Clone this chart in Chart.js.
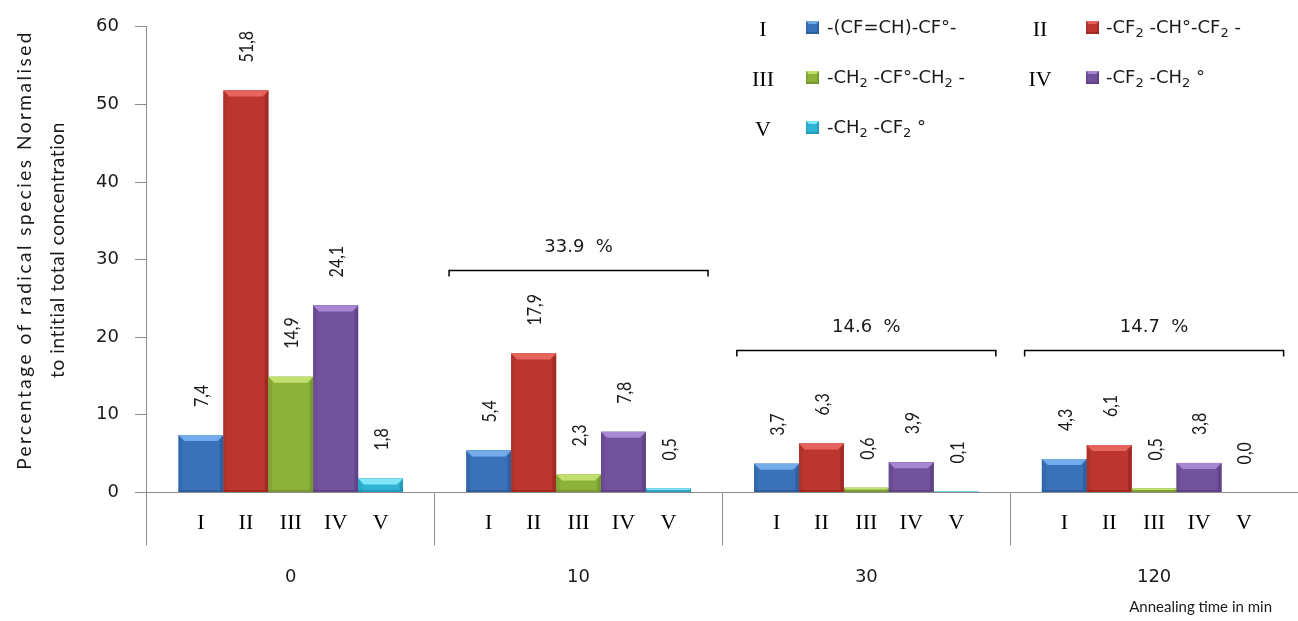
<!DOCTYPE html>
<html>
<head>
<meta charset="utf-8">
<script src="https://cdn.jsdelivr.net/npm/chart.js@4.4.1/dist/chart.umd.min.js"></script>
<style>
html, body { margin: 0; padding: 0; background: #fff; overflow: hidden; }
</style>
</head>
<body>
<canvas id="chart" width="1298" height="621"></canvas>
<script>
const annealing_times = ['0', '10', '30', '120'];
const species_numerals = ['I', 'II', 'III', 'IV', 'V'];
const species_names = ['-(CF=CH)-CF°-', '-CF₂ -CH°-CF₂ -', '-CH₂ -CF°-CH₂ -', '-CF₂ -CH₂ °', '-CH₂ -CF₂ °'];

const species_I = [7.4, 5.4, 3.7, 4.3];
const species_II = [51.8, 17.9, 6.3, 6.1];
const species_III = [14.9, 2.3, 0.6, 0.5];
const species_IV = [24.1, 7.8, 3.9, 3.8];
const species_V = [1.8, 0.5, 0.1, 0.0];

// remaining total after annealing, shown above each group
const total_labels = ['', '33.9  %', '14.6  %', '14.7  %'];
const total_levels = [null, 28.6, 18.4, 18.4];

const y_title_lines = ['Percentage of radical species Normalised', 'to intitial total concentration'];
const x_title = 'Annealing time in min';

const species_values = [species_I, species_II, species_III, species_IV, species_V];

// face / light bevel / dark edge
const bar_colors = [
    ['#3a72b9', '#74abea', '#24518b'],
    ['#bd362e', '#e5655c', '#8a231d'],
    ['#8db23a', '#c0df6c', '#66852a'],
    ['#72519d', '#a888d3', '#523878'],
    ['#2fb4d5', '#80e6f8', '#1d87a3']
];

const text_font = "Lato, 'Open Sans', sans-serif";
const number_font = "'DejaVu Sans', Verdana, sans-serif";
const serif_font = "'Liberation Serif', 'DejaVu Serif', serif";

function format_value(v) {
    return v.toFixed(1).replace('.', ',');
}

// draws text with ₂ rendered as a small lowered 2
function draw_formula(ctx, text, x, y, size) {
    let pos = x;
    for (const ch of text) {
        if (ch === '₂') {
            ctx.font = `${Math.round(size * 0.72)}px ${number_font}`;
            ctx.fillText('2', pos, y + size * 0.3);
            pos += ctx.measureText('2').width;
        } else {
            ctx.font = `${size}px ${number_font}`;
            ctx.fillText(ch, pos, y);
            pos += ctx.measureText(ch).width;
        }
    }
}

function bevel_box(ctx, left, top, right, bottom, colors, b) {
    const h = bottom - top;
    if (h <= 0) return;
    ctx.fillStyle = colors[0];
    ctx.fillRect(left, top, right - left, h);

    const bb = Math.min(b, h / 2);
    // top bevel
    ctx.fillStyle = colors[1];
    ctx.beginPath();
    ctx.moveTo(left, top);
    ctx.lineTo(right, top);
    ctx.lineTo(right - bb, top + bb);
    ctx.lineTo(left + bb, top + bb);
    ctx.closePath();
    ctx.fill();
    // right side
    ctx.fillStyle = colors[2];
    ctx.globalAlpha = 0.55;
    ctx.beginPath();
    ctx.moveTo(right, top);
    ctx.lineTo(right, bottom);
    ctx.lineTo(right - bb * 0.6, bottom - bb * 0.4);
    ctx.lineTo(right - bb * 0.6, top + bb);
    ctx.closePath();
    ctx.fill();
    // bottom edge
    ctx.fillRect(left, bottom - Math.min(2, bb), right - left, Math.min(2, bb));
    // left side
    ctx.globalAlpha = 0.25;
    ctx.beginPath();
    ctx.moveTo(left, top);
    ctx.lineTo(left + bb * 0.6, top + bb);
    ctx.lineTo(left + bb * 0.6, bottom);
    ctx.lineTo(left, bottom);
    ctx.closePath();
    ctx.fill();
    ctx.globalAlpha = 1;
}

const bar_decor = {
    id: 'bar_decor',
    afterDatasetsDraw(chart) {
        const ctx = chart.ctx;
        const area = chart.chartArea;
        ctx.save();
        chart.data.datasets.forEach((ds, i) => {
            const meta = chart.getDatasetMeta(i);
            meta.data.forEach((bar, j) => {
                const p = bar.getProps(['x', 'y', 'base', 'width'], true);
                const left = p.x - p.width / 2;
                const right = p.x + p.width / 2;
                bevel_box(ctx, left, p.y, right, p.base, bar_colors[i], 6);

                // value label, rotated (slightly widened across, like the original)
                ctx.save();
                ctx.translate(p.x + 1, p.y - 28);
                ctx.rotate(-Math.PI / 2);
                ctx.scale(1, 1.25);
                ctx.font = `16px ${text_font}`;
                ctx.fillStyle = '#1a1a1a';
                ctx.textAlign = 'left';
                ctx.textBaseline = 'middle';
                ctx.fillText(format_value(ds.data[j]), 0, 0);
                ctx.restore();

                // species numeral under the bar
                ctx.font = `22px ${serif_font}`;
                ctx.fillStyle = '#000';
                ctx.textAlign = 'center';
                ctx.textBaseline = 'middle';
                ctx.fillText(species_numerals[i], p.x, area.bottom + 31);
            });
        });
        ctx.restore();
    }
};

const totals_plugin = {
    id: 'totals_plugin',
    afterDatasetsDraw(chart) {
        const ctx = chart.ctx;
        const xs = chart.scales.x;
        const ys = chart.scales.y;
        ctx.save();
        total_labels.forEach((label, i) => {
            if (!label) return;
            const x0 = xs.getPixelForValue(i - 0.45);
            const x1 = xs.getPixelForValue(i + 0.45);
            const y = Math.round(ys.getPixelForValue(total_levels[i])) + 0.5;
            ctx.strokeStyle = '#000';
            ctx.lineWidth = 1.5;
            ctx.beginPath();
            ctx.moveTo(x0, y + 6);
            ctx.lineTo(x0, y);
            ctx.lineTo(x1, y);
            ctx.lineTo(x1, y + 6);
            ctx.stroke();
            ctx.font = `18px ${number_font}`;
            ctx.fillStyle = '#1a1a1a';
            ctx.textAlign = 'center';
            ctx.textBaseline = 'middle';
            ctx.fillText(label, xs.getPixelForValue(i), y - 23);
        });
        ctx.restore();
    }
};

const titles_plugin = {
    id: 'titles_plugin',
    afterDraw(chart) {
        const ctx = chart.ctx;
        ctx.save();
        ctx.fillStyle = '#1a1a1a';
        ctx.textAlign = 'center';
        ctx.textBaseline = 'middle';
        const spacing = ['2.5px', '0.6px'];
        const cx = [25, 58];
        y_title_lines.forEach((line, k) => {
            ctx.save();
            ctx.translate(cx[k], 250);
            ctx.rotate(-Math.PI / 2);
            ctx.font = `19px ${text_font}`;
            ctx.letterSpacing = spacing[k];
            ctx.fillText(line, 0, 0);
            ctx.restore();
        });
        ctx.font = `15px ${text_font}`;
        ctx.textAlign = 'right';
        ctx.fillText(x_title, 1272, 607);
        ctx.restore();
    }
};

const legend_plugin = {
    id: 'legend_plugin',
    afterDraw(chart) {
        const ctx = chart.ctx;
        const cols = [{ num: 763, box: 806, txt: 827 }, { num: 1040, box: 1086, txt: 1106 }];
        const rows = [28, 78, 128];
        ctx.save();
        species_names.forEach((name, i) => {
            const c = cols[i % 2];
            const y = rows[Math.floor(i / 2)];
            ctx.font = `22px ${serif_font}`;
            ctx.fillStyle = '#000';
            ctx.textAlign = 'center';
            ctx.textBaseline = 'middle';
            ctx.fillText(species_numerals[i], c.num, y + 2);
            bevel_box(ctx, c.box, y - 7, c.box + 13, y + 6, bar_colors[i], 3);
            ctx.fillStyle = '#1a1a1a';
            ctx.textAlign = 'left';
            draw_formula(ctx, name, c.txt, y, 18);
        });
        ctx.restore();
    }
};

new Chart(document.getElementById('chart'), {
    type: 'bar',
    data: {
        labels: annealing_times,
        datasets: species_values.map((values, i) => ({
            label: species_numerals[i] + ' ' + species_names[i],
            data: values,
            backgroundColor: bar_colors[i][0],
            borderWidth: 0,
            barPercentage: 1,
            categoryPercentage: 0.78
        }))
    },
    options: {
        responsive: false,
        devicePixelRatio: 1,
        animation: false,
        layout: {
            padding: { top: 25, right: 0, bottom: 12, left: 80 }
        },
        scales: {
            x: {
                grid: {
                    offset: true,
                    drawOnChartArea: false,
                    tickLength: 53,
                    color: '#8c8c8c'
                },
                border: { color: '#8c8c8c' },
                ticks: {
                    color: '#1a1a1a',
                    font: { family: number_font, size: 18 },
                    padding: 21
                }
            },
            y: {
                min: 0,
                max: 60,
                ticks: {
                    stepSize: 10,
                    color: '#1a1a1a',
                    font: { family: number_font, size: 18 },
                    padding: 16
                },
                grid: {
                    drawOnChartArea: false,
                    tickLength: 12,
                    color: '#8c8c8c'
                },
                border: { color: '#8c8c8c' }
            }
        },
        plugins: {
            legend: { display: false },
            tooltip: { enabled: false }
        }
    },
    plugins: [bar_decor, totals_plugin, titles_plugin, legend_plugin]
});
</script>
</body>
</html>
